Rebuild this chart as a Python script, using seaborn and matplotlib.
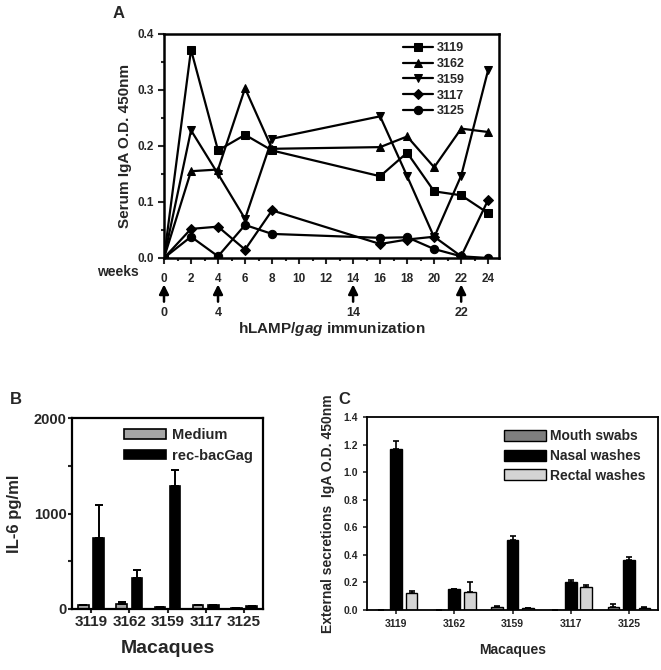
import numpy as np
import pandas as pd
import matplotlib
matplotlib.use("Agg")
import matplotlib.pyplot as plt
import seaborn as sns
from matplotlib.ticker import MultipleLocator

sns.set_style("white")
plt.rcParams['font.family'] = ['Liberation Sans', 'DejaVu Sans']
plt.rcParams['font.weight'] = 'bold'
plt.rcParams['axes.labelweight'] = 'bold'
plt.rcParams['mathtext.fontset'] = 'custom'
plt.rcParams['mathtext.rm'] = 'Liberation Sans:bold'
plt.rcParams['mathtext.it'] = 'Liberation Sans:italic:bold'

# panel A: serum IgA over weeks
weeks = [0, 2, 4, 6, 8, 16, 18, 20, 22, 24]
animals = ['3119', '3162', '3159', '3117', '3125']
iga_3119 = [0, 0.372, 0.192, 0.220, 0.192, 0.146, 0.188, 0.119, 0.112, 0.080]
iga_3162 = [0, 0.155, 0.158, 0.303, 0.195, 0.198, 0.217, 0.162, 0.231, 0.225]
iga_3159 = [0, 0.228, 0.150, 0.070, 0.213, 0.253, 0.146, 0.037, 0.147, 0.336]
iga_3117 = [0, 0.052, 0.056, 0.015, 0.085, 0.025, 0.033, 0.038, 0.003, 0.104]
iga_3125 = [0, 0.038, 0.003, 0.059, 0.043, 0.036, 0.037, 0.016, 0.003, 0.0]
immun_weeks = [0, 4, 14, 22]

# panel B: IL-6
bac_groups = ['Medium', 'rec-bacGag']
il6_medium = [42, 55, 17, 38, 10]
il6_gag = [741, 323, 1287, 45, 30]
il6_medium_err = [0, 20, 0, 0, 0]
il6_gag_err = [348, 85, 165, 0, 0]

# panel C: external secretions
sec_groups = ['Mouth swabs', 'Nasal washes', 'Rectal washes']
mouth = [0, 0, 0.020, 0, 0.024]
nasal = [1.17, 0.150, 0.506, 0.200, 0.360]
rectal = [0.121, 0.133, 0.012, 0.170, 0.018]
mouth_err = [0, 0, 0.010, 0, 0.016]
nasal_err = [0.058, 0.005, 0.034, 0.018, 0.027]
rectal_err = [0.019, 0.073, 0, 0.010, 0.006]

fig = plt.figure(figsize=(6.61, 6.70), dpi=100)
W, H = 661, 670

def add_ax(l, t, r, b):
    return fig.add_axes([l / W, 1 - b / H, (r - l) / W, (b - t) / H])

# ---------- A ----------
axA = add_ax(164, 34, 499, 258)
dfA = pd.DataFrame({
    'week': weeks * 5,
    'od': iga_3119 + iga_3162 + iga_3159 + iga_3117 + iga_3125,
    'animal': sum([[a] * len(weeks) for a in animals], []),
})
markers = {'3119': 's', '3162': '^', '3159': 'v', '3117': 'D', '3125': 'o'}
sns.lineplot(data=dfA, x='week', y='od', hue='animal', style='animal',
             hue_order=animals, style_order=animals, markers=markers,
             dashes=False, palette=['black'] * 5, markersize=6,
             markeredgecolor='black', linewidth=1.6, ax=axA)
for ln in axA.lines:
    if ln.get_marker() == 'D':
        ln.set_markersize(4.8)
axA.set_xlim(0, 24.8)
axA.set_ylim(0, 0.4)
axA.xaxis.set_major_locator(MultipleLocator(2))
axA.xaxis.set_minor_locator(MultipleLocator(1))
axA.yaxis.set_major_locator(MultipleLocator(0.1))
axA.yaxis.set_minor_locator(MultipleLocator(0.05))
axA.yaxis.set_major_formatter(matplotlib.ticker.FormatStrFormatter('%.1f'))
axA.tick_params(axis='both', which='major', direction='out', length=4, width=1.5,
                labelsize=8.5, bottom=True, left=True)
axA.tick_params(axis='x', which='major', pad=7)
axA.tick_params(axis='both', which='minor', direction='out', length=2.5, width=1.5,
                bottom=True, left=True)
for s in axA.spines.values():
    s.set_linewidth(1.8)
    s.set_color('black')
axA.set_xlabel('')
axA.set_ylabel('Serum IgA O.D. 450nm', fontsize=11, labelpad=4)
h, l = axA.get_legend_handles_labels()
for hd in h:
    if hd.get_marker() == 'D':
        hd.set_markersize(4.8)
axA.legend(h, l, loc='upper left', bbox_to_anchor=(0.7, 0.985), frameon=False,
           fontsize=9, handlelength=2.4, labelspacing=0.3, borderaxespad=0.0,
           handletextpad=0.3)
axA.text(-0.137, -0.062, 'weeks', transform=axA.transAxes, ha='center', va='center',
         fontsize=10)
trA = axA.get_xaxis_transform()
for wk in immun_weeks:
    axA.annotate('', xy=(wk, -0.118), xytext=(wk, -0.195), xycoords=trA,
                 textcoords=trA, annotation_clip=False,
                 arrowprops=dict(arrowstyle='-|>', color='black', lw=1.8,
                                 mutation_scale=14, shrinkA=0, shrinkB=0))
    axA.text(wk, -0.245, str(wk), transform=trA, ha='center', va='center', fontsize=9)
axA.text(0.5, -0.317, r'hLAMP/$\mathit{gag}$ immunization', transform=axA.transAxes,
         ha='center', va='center', fontsize=11)
fig.text(113 / W, 1 - 13 / H, 'A', fontsize=12, ha='left', va='center')

# ---------- B ----------
axB = add_ax(72, 418, 263, 609)
dfB = pd.DataFrame({
    'animal': animals * 2,
    'val': il6_medium + il6_gag,
    'group': [bac_groups[0]] * 5 + [bac_groups[1]] * 5,
})
sns.barplot(data=dfB, x='animal', y='val', hue='group', hue_order=bac_groups,
            order=animals, palette=['#a6a6a6', 'black'], edgecolor='black',
            linewidth=1.2, width=0.8, gap=0.3, errorbar=None, ax=axB)
for cont, errs in zip(axB.containers, [il6_medium_err, il6_gag_err]):
    xs = [p.get_x() + p.get_width() / 2 for p in cont.patches]
    hs = [p.get_height() for p in cont.patches]
    axB.errorbar(xs, hs, yerr=[[0] * len(errs), errs], fmt='none', ecolor='black',
                 elinewidth=1.4, capsize=3, capthick=1.4)
axB.set_ylim(0, 2000)
axB.set_xlim(-0.5, 4.5)
axB.yaxis.set_major_locator(MultipleLocator(1000))
axB.yaxis.set_minor_locator(MultipleLocator(500))
axB.tick_params(axis='both', which='major', direction='out', length=3, width=1.5,
                labelsize=11, bottom=True, left=True)
axB.tick_params(axis='x', which='major', pad=1)
axB.tick_params(axis='y', which='major', pad=1, labelsize=10.5)
axB.tick_params(axis='y', which='minor', direction='out', length=3, width=1.5, left=True)
for s in axB.spines.values():
    s.set_linewidth(1.6)
    s.set_color('black')
axB.set_xlabel('Macaques', fontsize=14, labelpad=8)
axB.set_ylabel('IL-6 pg/ml', fontsize=12, labelpad=8)
h, l = axB.get_legend_handles_labels()
axB.legend(h, l, loc='upper right', frameon=False, fontsize=10.5, handlelength=2.9,
           handleheight=0.6, labelspacing=0.45, borderaxespad=0.3, handletextpad=0.4)
fig.text(10 / W, 1 - 400 / H, 'B', fontsize=12, ha='left', va='center')

# ---------- C ----------
axC = add_ax(367, 417, 658, 610)
dfC = pd.DataFrame({
    'animal': animals * 3,
    'val': mouth + nasal + rectal,
    'group': [sec_groups[0]] * 5 + [sec_groups[1]] * 5 + [sec_groups[2]] * 5,
})
sns.barplot(data=dfC, x='animal', y='val', hue='group', hue_order=sec_groups,
            order=animals, palette=['#7f7f7f', 'black', '#d4d4d4'], edgecolor='black',
            linewidth=1.0, width=0.8, gap=0.25, errorbar=None, ax=axC)
for cont, errs in zip(axC.containers, [mouth_err, nasal_err, rectal_err]):
    xs = [p.get_x() + p.get_width() / 2 for p in cont.patches]
    hs = [p.get_height() for p in cont.patches]
    axC.errorbar(xs, hs, yerr=[[0] * len(errs), errs], fmt='none', ecolor='black',
                 elinewidth=1.2, capsize=2.5, capthick=1.2)
axC.set_ylim(0, 1.4)
axC.set_xlim(-0.5, 4.5)
axC.yaxis.set_major_locator(MultipleLocator(0.2))
axC.yaxis.set_major_formatter(matplotlib.ticker.FormatStrFormatter('%.1f'))
axC.tick_params(axis='both', which='major', direction='out', length=3, width=1.2,
                labelsize=7.5, bottom=True, left=True)
for s in axC.spines.values():
    s.set_linewidth(1.3)
    s.set_color('black')
axC.set_xlabel('Macaques', fontsize=10, labelpad=10)
axC.set_ylabel('External secretions  IgA O.D. 450nm', fontsize=10, labelpad=6)
h, l = axC.get_legend_handles_labels()
axC.legend(h, l, loc='upper right', frameon=False, fontsize=10, handlelength=3.0,
           handleheight=0.8, labelspacing=0.4, borderaxespad=0.5, handletextpad=0.3)
fig.text(338 / W, 1 - 400 / H, 'C', fontsize=12, ha='left', va='center')

fig.savefig('out.png', dpi=100)
